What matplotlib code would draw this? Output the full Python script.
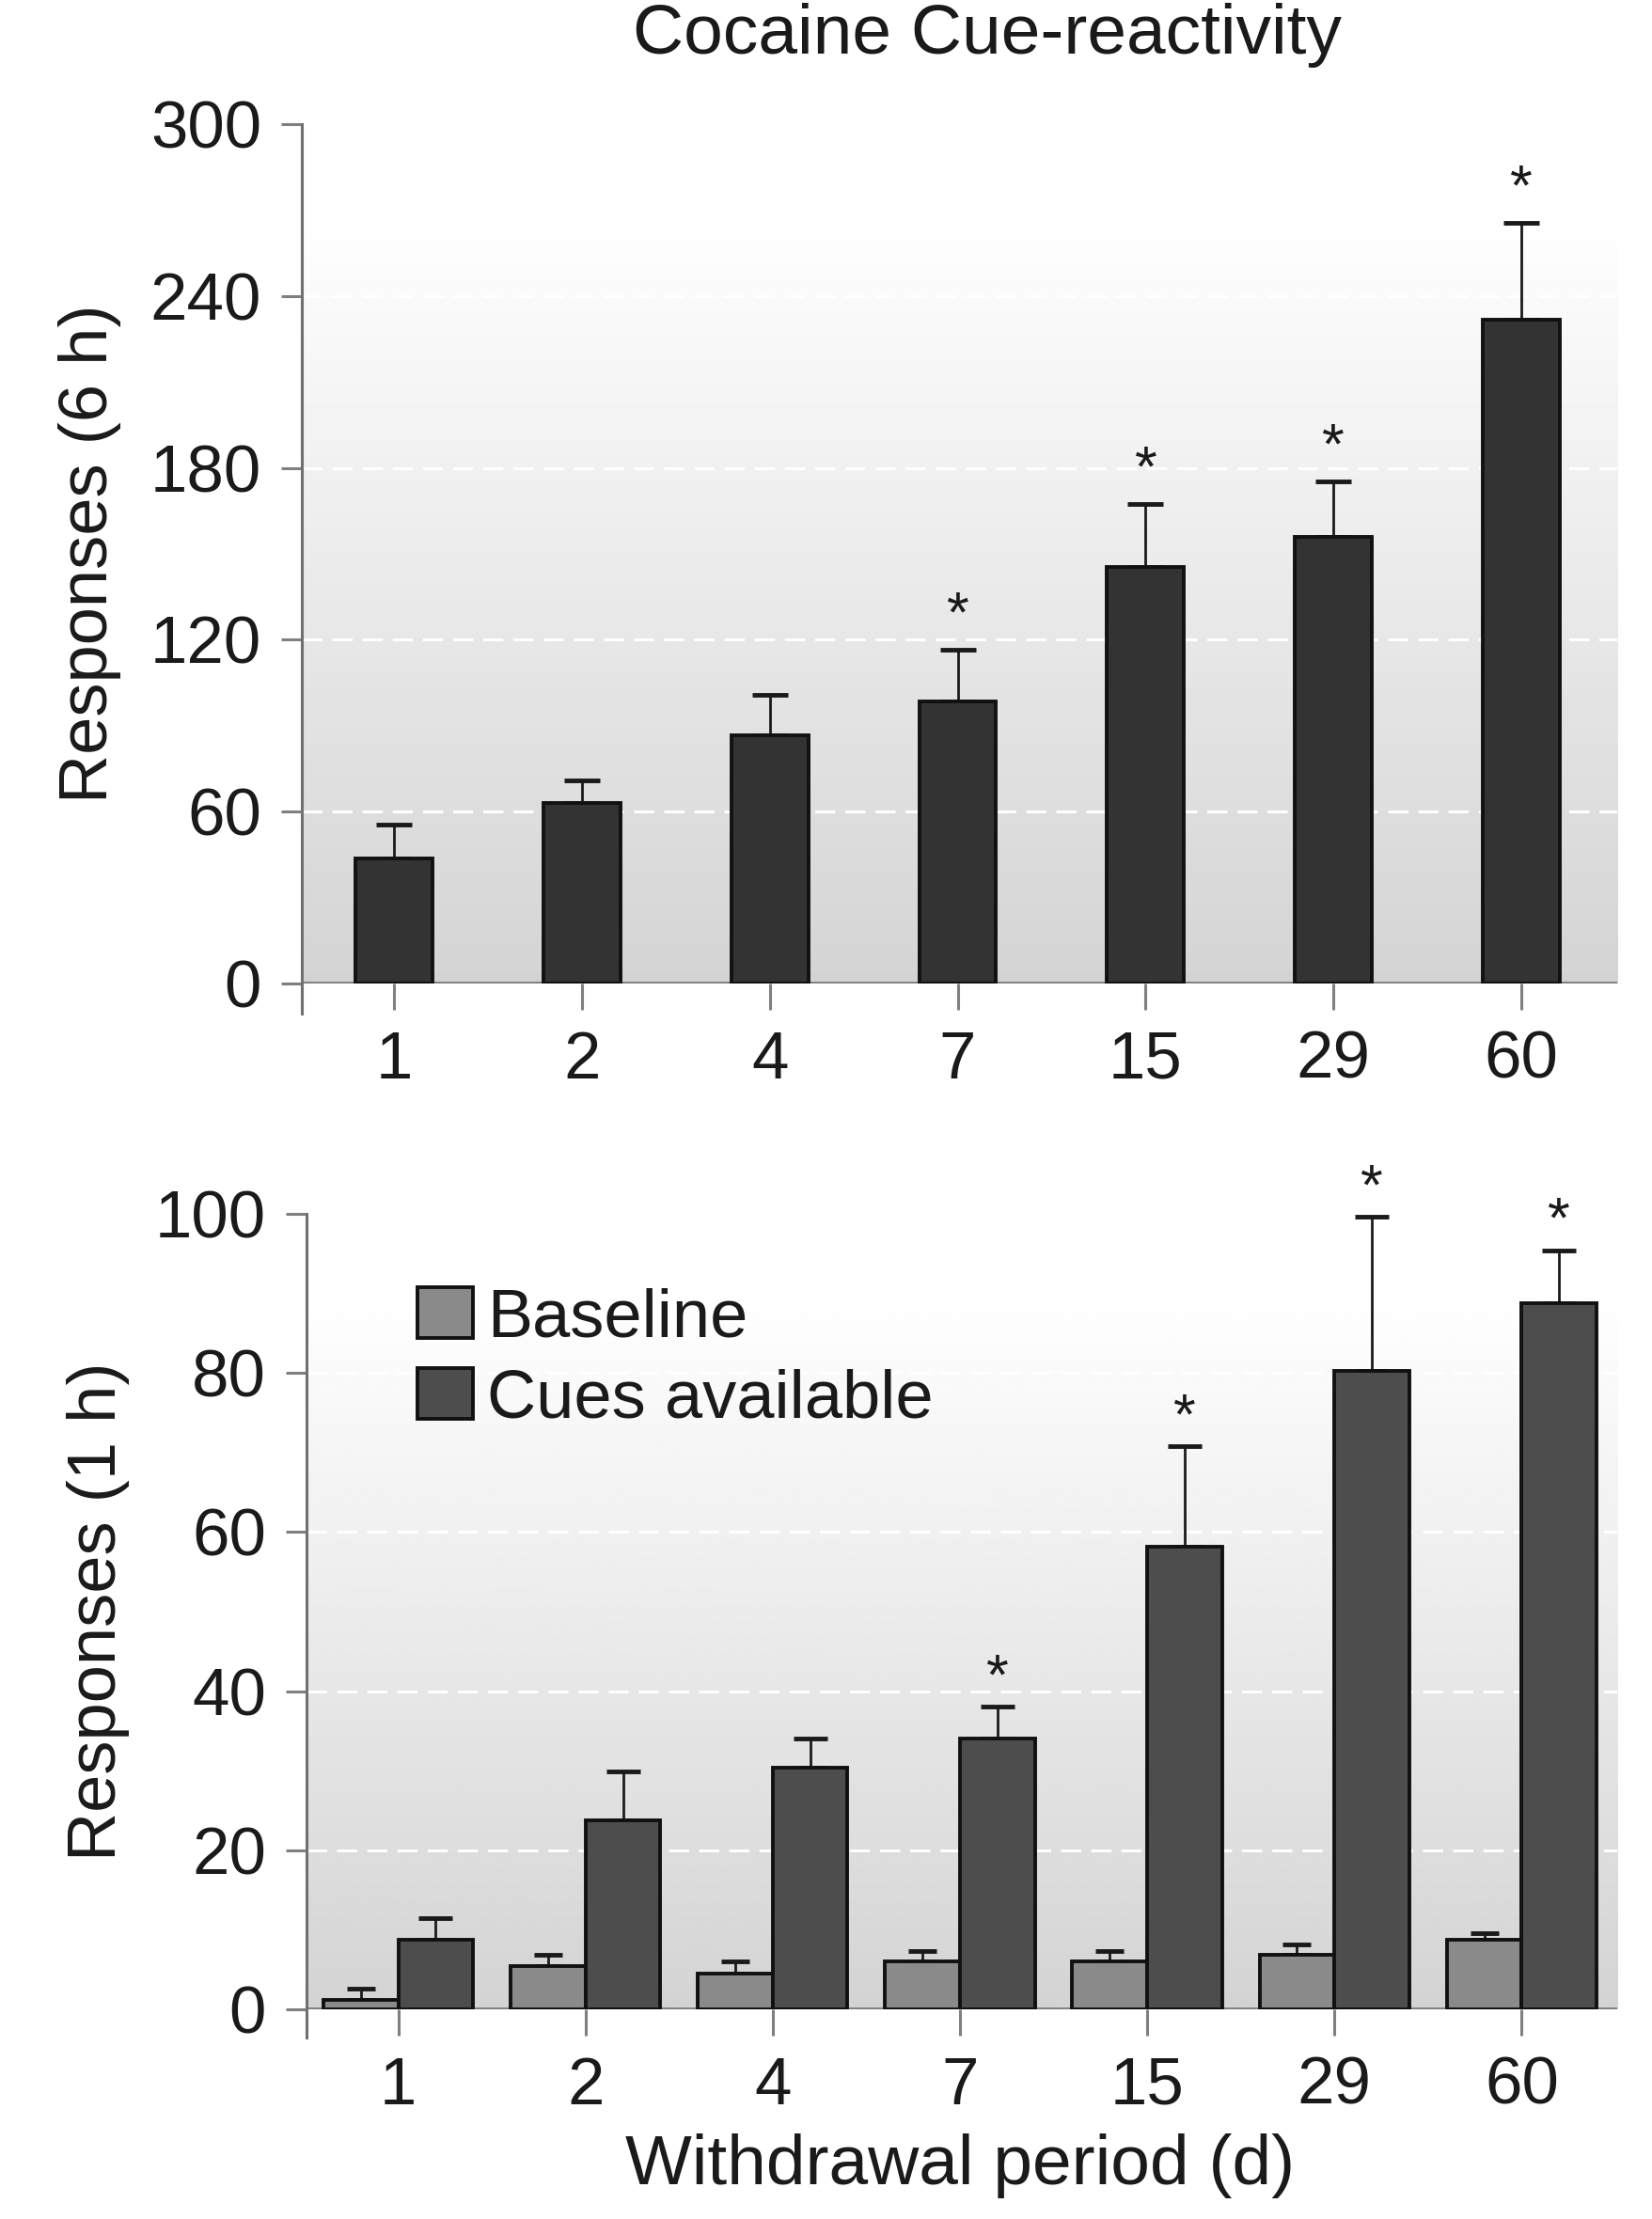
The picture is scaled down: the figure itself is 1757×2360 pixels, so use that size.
import numpy as np
import matplotlib
matplotlib.use('Agg')
import matplotlib.pyplot as plt

plt.rcParams['font.family'] = ['Liberation Sans', 'DejaVu Sans']

# 戒断天数
days = ['1', '2', '4', '7', '15', '29', '60']

# 上图：6 h 反应数
resp_6h = [43.5, 63.0, 86.7, 98.5, 145.5, 155.8, 231.7]
resp_6h_sem = [11.8, 7.9, 14.2, 17.9, 22.0, 19.5, 33.8]
sig_6h = [False, False, False, True, True, True, True]

# 下图：1 h 反应数
baseline_1h = [1.2, 5.4, 4.5, 6.0, 6.0, 6.8, 8.8]
baseline_1h_sem = [1.4, 1.4, 1.5, 1.3, 1.3, 1.4, 0.8]
cues_1h = [8.7, 23.8, 30.4, 34.0, 58.2, 80.3, 88.8]
cues_1h_sem = [2.8, 6.1, 3.6, 4.0, 12.6, 19.3, 6.6]
sig_1h = [False, False, False, True, True, True, True]

GRAY = '#808080'
TXT = '#1a1a1a'


def style_axes(ax, ymax, yticks):
    x = np.arange(len(days))
    ax.set_xlim(-0.49, len(days) - 0.49)
    ax.set_ylim(0, ymax)
    ax.set_xticks(x)
    ax.set_xticklabels(days)
    ax.set_yticks(yticks)
    for s in ['top', 'right', 'bottom', 'left']:
        ax.spines[s].set_visible(False)
    # 背景渐变：底部浅灰到顶部白色
    frac = np.linspace(0, 1, 300)
    shade = 0.83 + 0.17 * np.clip(frac / 0.9, 0, 1)
    ax.imshow(shade[::-1, None], cmap='gray', vmin=0, vmax=1, aspect='auto',
              extent=(ax.get_xlim()[0], ax.get_xlim()[1], 0, ymax), zorder=0.1)
    ax.set_axisbelow(True)
    ax.yaxis.grid(True, color='white', linewidth=2.2, linestyle=(0, (7, 3.5)))
    ax.axhline(0, color=GRAY, linewidth=3.5, zorder=0.8)
    ax.plot([0, 0], [-0.035, 1], transform=ax.transAxes, color='#707070',
            linewidth=2.2, clip_on=False, zorder=3)
    ax.tick_params(axis='x', direction='out', length=20, width=2.2, color=GRAY,
                   pad=16, labelsize=51, labelcolor=TXT)
    ax.tick_params(axis='y', direction='out', length=16, width=2.2, color=GRAY,
                   pad=15, labelsize=51, labelcolor=TXT)


def add_stars(ax, xs, tops, flags, off):
    for xi, t, f in zip(xs, tops, flags):
        if f:
            ax.annotate('*', (xi, t), xytext=(0, off), textcoords='offset points',
                        ha='center', va='baseline', fontsize=44, color=TXT)


fig = plt.figure(figsize=(17.58, 23.6), dpi=100)
ax1 = fig.add_axes([0.1826, 0.5568, 0.7958, 0.3873])
ax2 = fig.add_axes([0.1854, 0.0945, 0.7930, 0.3585])

x = np.arange(len(days))

# ---- 上图 ----
style_axes(ax1, 300, [0, 60, 120, 180, 240, 300])
ax1.bar(x, resp_6h, width=0.41, color='#333333', edgecolor='#111111',
        linewidth=2.8, zorder=2)
ax1.errorbar(x, resp_6h, yerr=[np.zeros(len(x)), resp_6h_sem], fmt='none',
             ecolor='#1a1a1a', elinewidth=2, capsize=14, capthick=3.5, zorder=1.9)
add_stars(ax1, x, np.array(resp_6h) + np.array(resp_6h_sem), sig_6h, 14)
ax1.set_ylabel('Responses (6 h)', fontsize=52, color=TXT)
ax1.yaxis.set_label_coords(-0.137, 0.5)

# ---- 下图 ----
style_axes(ax2, 100, [0, 20, 40, 60, 80, 100])
ax2.bar(x - 0.2, baseline_1h, width=0.4, color='#8a8a8a', edgecolor='#111111',
        linewidth=2.8, zorder=2, label='Baseline')
ax2.bar(x + 0.2, cues_1h, width=0.4, color='#4d4d4d', edgecolor='#111111',
        linewidth=2.8, zorder=2, label='Cues available')
ax2.errorbar(x - 0.2, baseline_1h, yerr=[np.zeros(len(x)), baseline_1h_sem],
             fmt='none', ecolor='#1a1a1a', elinewidth=2, capsize=11, capthick=3.5,
             zorder=1.9)
ax2.errorbar(x + 0.2, cues_1h, yerr=[np.zeros(len(x)), cues_1h_sem],
             fmt='none', ecolor='#1a1a1a', elinewidth=2, capsize=13, capthick=3.5,
             zorder=1.9)
add_stars(ax2, x + 0.2, np.array(cues_1h) + np.array(cues_1h_sem), sig_1h, 10)
ax2.set_ylabel('Responses (1 h)', fontsize=52, color=TXT)
ax2.yaxis.set_label_coords(-0.135, 0.5)
leg = ax2.legend(loc='upper left', bbox_to_anchor=(0.0847, 0.908), frameon=False,
                 fontsize=52, handlelength=0.82, handleheight=0.78,
                 handletextpad=0.2, labelspacing=0.26, borderpad=0, borderaxespad=0)
for t in leg.get_texts():
    t.set_color(TXT)

fig.text(1050 / 1758, 1 - 38 / 2360, 'Cocaine Cue-reactivity', ha='center',
         va='center', fontsize=54, color=TXT)
fig.text(1021 / 1758, 1 - 2303 / 2360, 'Withdrawal period (d)', ha='center',
         va='center', fontsize=54, color=TXT)

fig.savefig('out.png', dpi=100, facecolor='white')
